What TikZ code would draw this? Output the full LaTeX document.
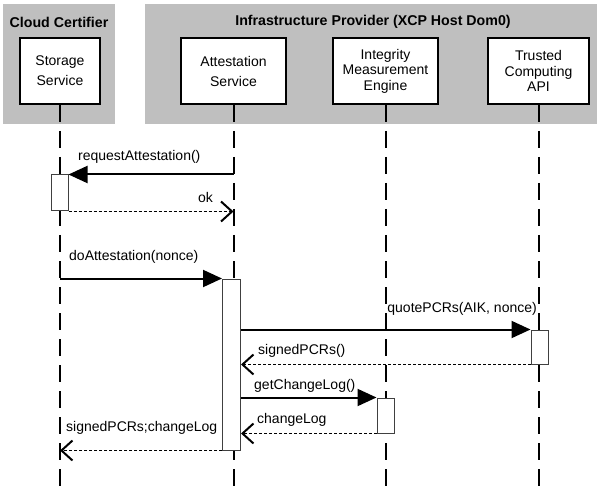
\documentclass[tikz,border=0pt]{standalone}
\usepackage{fontspec}
\setmainfont{Liberation Sans}
\usetikzlibrary{arrows.meta}

\begin{document}
\begin{tikzpicture}[x=1pt, y=-1pt,
  font=\fontsize{14}{15.5}\selectfont,
  group/.style={fill=black!25, draw=none},
  grouptitle/.style={font=\fontsize{14.2}{16}\selectfont\bfseries, inner sep=0pt},
  actor/.style={draw, line width=2pt, fill=white, align=center, minimum height=66pt, inner sep=0pt},
  life/.style={line width=2pt, dash pattern=on 17pt off 9pt},
  activ/.style={draw=black!75, fill=white, line width=1pt, minimum width=17pt, inner sep=0pt},
  call/.style={line width=2pt, -{Triangle[length=19pt, width=17pt]}},
  reply/.style={line width=1.5pt, dash pattern=on 3pt off 2pt, -{Straight Barb[length=11pt, width=20pt, line width=2pt]}},
  msg/.style={inner sep=0pt}]

 \useasboundingbox (0,0) rectangle (597,489);

 %groups
 \fill[group] (3,4) rectangle (115,124);
 \fill[group] (145,4) rectangle (597,124);
 \node[grouptitle] (cc)  at (59,22)  {Cloud Certifier};
 \node[grouptitle] (ip)  at (373,22) {Infrastructure Provider (XCP Host Dom0)};

 %actors
 \node[actor, minimum width=80pt]  (stor) at (60,71)    {Storage\\[4.5pt]Service};
 \node[actor, minimum width=105pt] (att)  at (233.5,71) {Attestation\\[4.5pt]Service};
 \node[actor, minimum width=105pt] (ime)  at (385.5,71) {Integrity\\Measurement\\Engine};
 \node[actor, minimum width=101pt] (tca)  at (538.5,71) {Trusted\\Computing\\API};

 \coordinate (bot) at (0,489);
 \foreach \n in {stor, att, ime, tca} {
   \draw[life] (\n.south) -- (\n.south |- bot);
 }

 %activations
 \node[activ, minimum height=36pt]  (actS) at (59.5,193)  {};
 \node[activ, minimum height=171pt, minimum width=18pt] (actA) at (231.5,364.5) {};
 \node[activ, minimum height=34pt]  (actT) at (539.5,347)  {};
 \node[activ, minimum height=35pt]  (actI) at (385.5,415.5) {};

 \coordinate (reqA) at (att.south |- actS.north east);
 \coordinate (okA)  at (att.south |- actS.south east);
 \coordinate (doS)  at (stor.south |- actA.north west);
 \coordinate (endS) at (stor.south |- actA.south west);

 %messages
 \draw[call]  (reqA) -- (actS.north east);
 \draw[reply] (actS.south east) -- (okA);
 \draw[call]  (doS) -- (actA.north west);
 \draw[call]  (actA.east |- actT.north west) -- (actT.north west);
 \draw[reply] (actT.south west) -- (actA.east |- actT.south west);
 \draw[call]  (actA.east |- actI.north west) -- (actI.north west);
 \draw[reply] (actI.south west) -- (actA.east |- actI.south west);
 \draw[reply] (actA.south west) -- (endS);

 %labels
 \node[msg, anchor=west] (lreq)  at (78,157)  {requestAttestation()};
 \node[msg, anchor=east] (lok)   at (213,197) {ok};
 \node[msg, anchor=west] (ldo)   at (69,257)  {doAttestation(nonce)};
 \node[msg, anchor=east] (lqu)   at (537,309) {quotePCRs(AIK, nonce)};
 \node[msg, anchor=west] (lsig)  at (258,351) {signedPCRs()};
 \node[msg, anchor=west] (lget)  at (254,386) {getChangeLog()};
 \node[msg, anchor=west] (lchg)  at (257,420) {changeLog};
 \node[msg, anchor=west] (lend)  at (66,428)  {signedPCRs;changeLog};

\end{tikzpicture}
\end{document}
